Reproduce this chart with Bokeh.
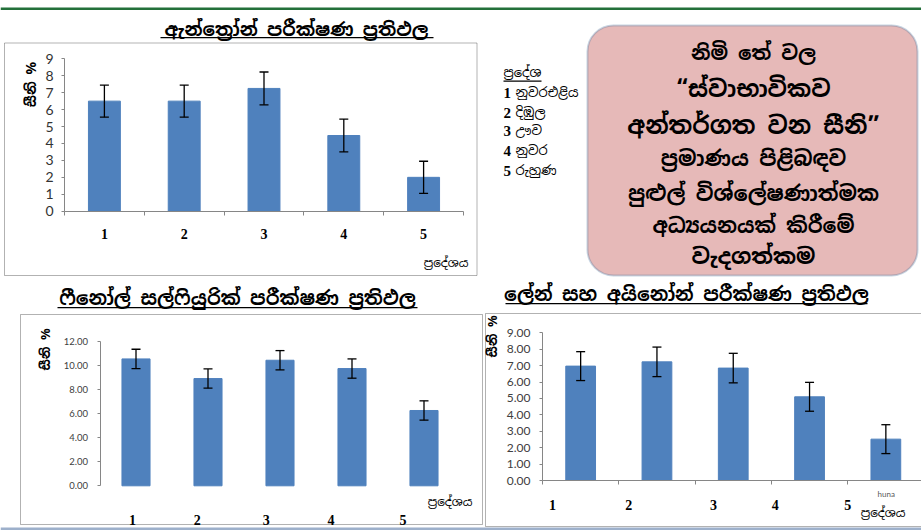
import math
from bokeh.plotting import figure
from bokeh.models import (Range1d, FixedTicker, ColumnDataSource, Whisker, TeeHead,
                          BoxAnnotation, LinearAxis, NumeralTickFormatter, BasicTickFormatter)
from bokeh.core.properties import value
from bokeh.embed import file_html
from bokeh.resources import INLINE

# ---------------- data ----------------
regions = ["1", "2", "3", "4", "5"]
region_names = ["නුවරඑළිය", "දිඹුල", "ඌව", "නුවර", "රුහුණ"]

anthrone_sugar = [6.50, 6.50, 7.25, 4.47, 2.00]
anthrone_error = [0.95, 0.95, 0.97, 0.97, 0.95]
anthrone_yticks = [0, 1, 2, 3, 4, 5, 6, 7, 8, 9]

phenol_sugar = [10.53, 8.90, 10.42, 9.73, 6.25]
phenol_error = [0.80, 0.80, 0.80, 0.80, 0.80]
phenol_yticks = [0, 2, 4, 6, 8, 10, 12]

lane_sugar = [6.97, 7.23, 6.85, 5.10, 2.52]
lane_error = [0.88, 0.90, 0.90, 0.88, 0.88]
lane_yticks = [0, 1, 2, 3, 4, 5, 6, 7, 8, 9]

title_anthrone = "ඇන්ත්‍රෝන් පරීක්ෂණ ප්‍රතිඵල"
title_phenol = "ෆීනෝල් සල්ෆියුරික් පරීක්ෂණ ප්‍රතිඵල"
title_lane = "ලේන් සහ අයිනෝන් පරීක්ෂණ ප්‍රතිඵල"
y_title = "සීනි %"
x_title = "ප්‍රදේශය"
legend_title = "ප්‍රදේශ"
clipped_note = "huna"
box_lines = ["නිමි තේ වල", "“ස්වාභාවිකව", "අන්තර්ගත වන සීනි”", "ප්‍රමාණය පිළිබඳව",
             "පුළුල් විශ්ලේෂණාත්මක", "අධ්‍යයනයක් කිරීමේ", "වැදගත්කම"]

# ---------------- styles / layout ----------------
W, H = 921, 530
SIN = "'Noto Sans Sinhala', 'Noto Serif Sinhala', 'Iskoola Pota', 'Noto Sans', sans-serif"
NUM = "Lato"
SERIF = "'Liberation Serif'"
BAR = "#4F81BD"
AXIS = "#868686"
GREEN = "#23703A"
box_line_sizes = ["20px", "23px", "24px", "21px", "21px", "20.5px", "22px"]
box_line_y = [52, 88, 125, 158, 193, 225, 255]
legend_y = [92, 112, 130, 150, 170]
# horizontal nudges of the category labels (in category widths), as placed on the slide
label_shift_1 = [0, 0, 0, 0, 0]
label_shift_2 = [-0.05, -0.15, -0.19, -0.29, -0.29]
label_shift_3 = [-0.37, -0.37, -0.26, -0.45, -0.50]

p = figure(width=W, height=H, x_range=Range1d(0, W), y_range=Range1d(H, 0),
           x_axis_location=None, y_axis_location=None, min_border=0, title=None,
           toolbar_location=None, output_backend="svg", outline_line_color=None)
p.grid.visible = False


def value_range(v0, px0, v1, px1, size, vertical):
    b = (px1 - px0) / (v1 - v0)
    a = px0 - b * v0
    at = lambda q: (q - a) / b
    return Range1d(at(size), at(0)) if vertical else Range1d(at(0), at(size))


def cbox(l, r, t, b, **kw):
    p.add_layout(BoxAnnotation(left=l, right=r, top=t, bottom=b,
                               left_units="canvas", right_units="canvas",
                               top_units="canvas", bottom_units="canvas", **kw))


def txt(x, y, s, size, font=SIN, style="normal", align="center", color="black", angle=0):
    p.text(x=[x], y=[y], text=[s], text_font=value(font), text_font_size=size,
           text_font_style=style, text_align=align, text_baseline="middle",
           text_color=color, angle=angle)


def chart(name, values, errors, yticks, xpx, ypx, bar_w, fmt, ylab_size, ylab_color,
          ylab_standoff, xlab_standoff, shift, x_line=True):
    x = list(range(1, len(regions) + 1))
    xr, yr = name + "x", name + "y"
    p.extra_x_ranges[xr] = value_range(0.5, xpx[0], len(x) + 0.5, xpx[1], W, False)
    p.extra_y_ranges[yr] = value_range(0, ypx[0], yticks[-1], ypx[1], H, True)
    src = ColumnDataSource(dict(
        x=x, top=values,
        upper=[v + e for v, e in zip(values, errors)],
        lower=[v - e for v, e in zip(values, errors)]))
    p.vbar(x="x", top="top", width=bar_w, source=src, fill_color=BAR, line_color=BAR,
           x_range_name=xr, y_range_name=yr)
    head = dict(size=9, line_color="black", line_width=1.3)
    p.add_layout(Whisker(source=src, base="x", upper="upper", lower="lower",
                         line_color="black", line_width=1.3, level="annotation",
                         x_range_name=xr, y_range_name=yr,
                         upper_head=TeeHead(**head), lower_head=TeeHead(**head)))
    ya = LinearAxis(x_range_name=xr, y_range_name=yr, fixed_location=0.5,
                    bounds=(0, yticks[-1]), ticker=FixedTicker(ticks=yticks),
                    formatter=fmt, axis_line_color=AXIS, major_tick_line_color=AXIS,
                    major_tick_in=0, major_tick_out=3, minor_tick_line_color=None,
                    major_label_text_font=NUM, major_label_text_font_size=ylab_size,
                    major_label_text_color=ylab_color, major_label_standoff=ylab_standoff)
    p.add_layout(ya, "left")
    label_pos = [i + s for i, s in zip(x, shift)]
    xa = LinearAxis(x_range_name=xr, y_range_name=yr, fixed_location=0,
                    bounds=(0.5, len(x) + 0.5),
                    ticker=FixedTicker(ticks=label_pos,
                                       minor_ticks=[i - 0.5 for i in x] + [len(x) + 0.5]),
                    major_label_overrides={t: regions[k] for k, t in enumerate(label_pos)},
                    axis_line_color=AXIS if x_line else None,
                    major_tick_line_color=None, major_tick_in=0, major_tick_out=0,
                    minor_tick_line_color=AXIS if x_line else None,
                    minor_tick_in=0, minor_tick_out=4,
                    major_label_text_font=SERIF, major_label_text_font_style="bold",
                    major_label_text_font_size="14px", major_label_text_color="black",
                    major_label_standoff=xlab_standoff)
    p.add_layout(xa, "below")


# ---------------- page decorations ----------------
cbox(0, W, 7, 9.5, fill_color=GREEN, fill_alpha=1, line_color=None)
cbox(0, W, 527, 530, fill_color="#9DB0CB", fill_alpha=1, line_color=None)

# ---------------- chart 1: anthrone ----------------
cbox(4, 476.5, 42.5, 275, fill_color=None, line_color="black", line_width=1)
txt(296, 28, title_anthrone, "18.5px", style="bold")
cbox(160, 433, 36.5, 37.7, fill_color="black", fill_alpha=1, line_color=None)
chart("c1", anthrone_sugar, anthrone_error, anthrone_yticks, (64, 463), (210.7, 58.3),
      0.4, BasicTickFormatter(), "14px", "#333333", 8, 14, label_shift_1)
txt(30, 84, y_title, "14px", style="bold", angle=math.pi / 2)
txt(468, 262, x_title, "12px", align="right")

# ---------------- right panel: legend + text box ----------------
txt(503, 72, legend_title, "13px", align="left")
cbox(503, 541, 80, 81.2, fill_color="black", fill_alpha=1, line_color=None)
p.text(x=[503] * len(regions), y=legend_y, text=regions, text_font=value(SERIF),
       text_font_size="15px", text_font_style="bold", text_baseline="middle",
       text_color="black")
p.text(x=[515] * len(regions), y=legend_y, text=region_names, text_font=value(SIN),
       text_font_size="13px", text_baseline="middle", text_color="black")
p.add_layout(BoxAnnotation(left=587, right=917, top=25, bottom=275,
                           left_units="canvas", right_units="canvas",
                           top_units="canvas", bottom_units="canvas",
                           fill_color="#E6B9B8", fill_alpha=1, line_color="#41719C",
                           line_width=2, border_radius=26, level="underlay"))
box_src = ColumnDataSource(dict(x=[753] * len(box_lines), y=box_line_y,
                                text=box_lines, size=box_line_sizes))
p.text(x="x", y="y", text="text", text_font_size="size", source=box_src,
       text_font=value(SIN), text_font_style="bold", text_align="center",
       text_baseline="middle", text_color="black")

# ---------------- chart 2: phenol sulphuric ----------------
cbox(20, 482, 314, 524, fill_color=None, line_color="black", line_width=1)
txt(237, 298, title_phenol, "19px", style="bold")
cbox(57, 417, 306.5, 307.7, fill_color="black", fill_alpha=1, line_color=None)
chart("c2", phenol_sugar, phenol_error, phenol_yticks, (99.5, 459.5), (485.3, 340.7),
      0.39, NumeralTickFormatter(format="0.00"), "9.5px", "#404040", 9, 25,
      label_shift_2, x_line=False)
txt(45, 349, y_title, "13px", style="bold", angle=math.pi / 2)
txt(472, 501, x_title, "12px", align="right")

# ---------------- chart 3: lane & eynon ----------------
cbox(485, 925, 313, 526, fill_color=None, line_color="black", line_width=1)
txt(686, 294, title_lane, "19px", style="bold")
cbox(505, 867, 302.5, 303.7, fill_color="black", fill_alpha=1, line_color=None)
chart("c3", lane_sugar, lane_error, lane_yticks, (542, 923.5), (480, 332.3),
      0.39, NumeralTickFormatter(format="0.00"), "12px", "#404040", 9, 15, label_shift_3)
txt(492, 336, y_title, "13px", style="bold", angle=math.pi / 2)
txt(905, 512, x_title, "12px", align="right")
txt(877, 493, clipped_note, "8px", font=NUM, align="left", color="#595959")

open("out.html", "w").write(file_html(p, INLINE))
